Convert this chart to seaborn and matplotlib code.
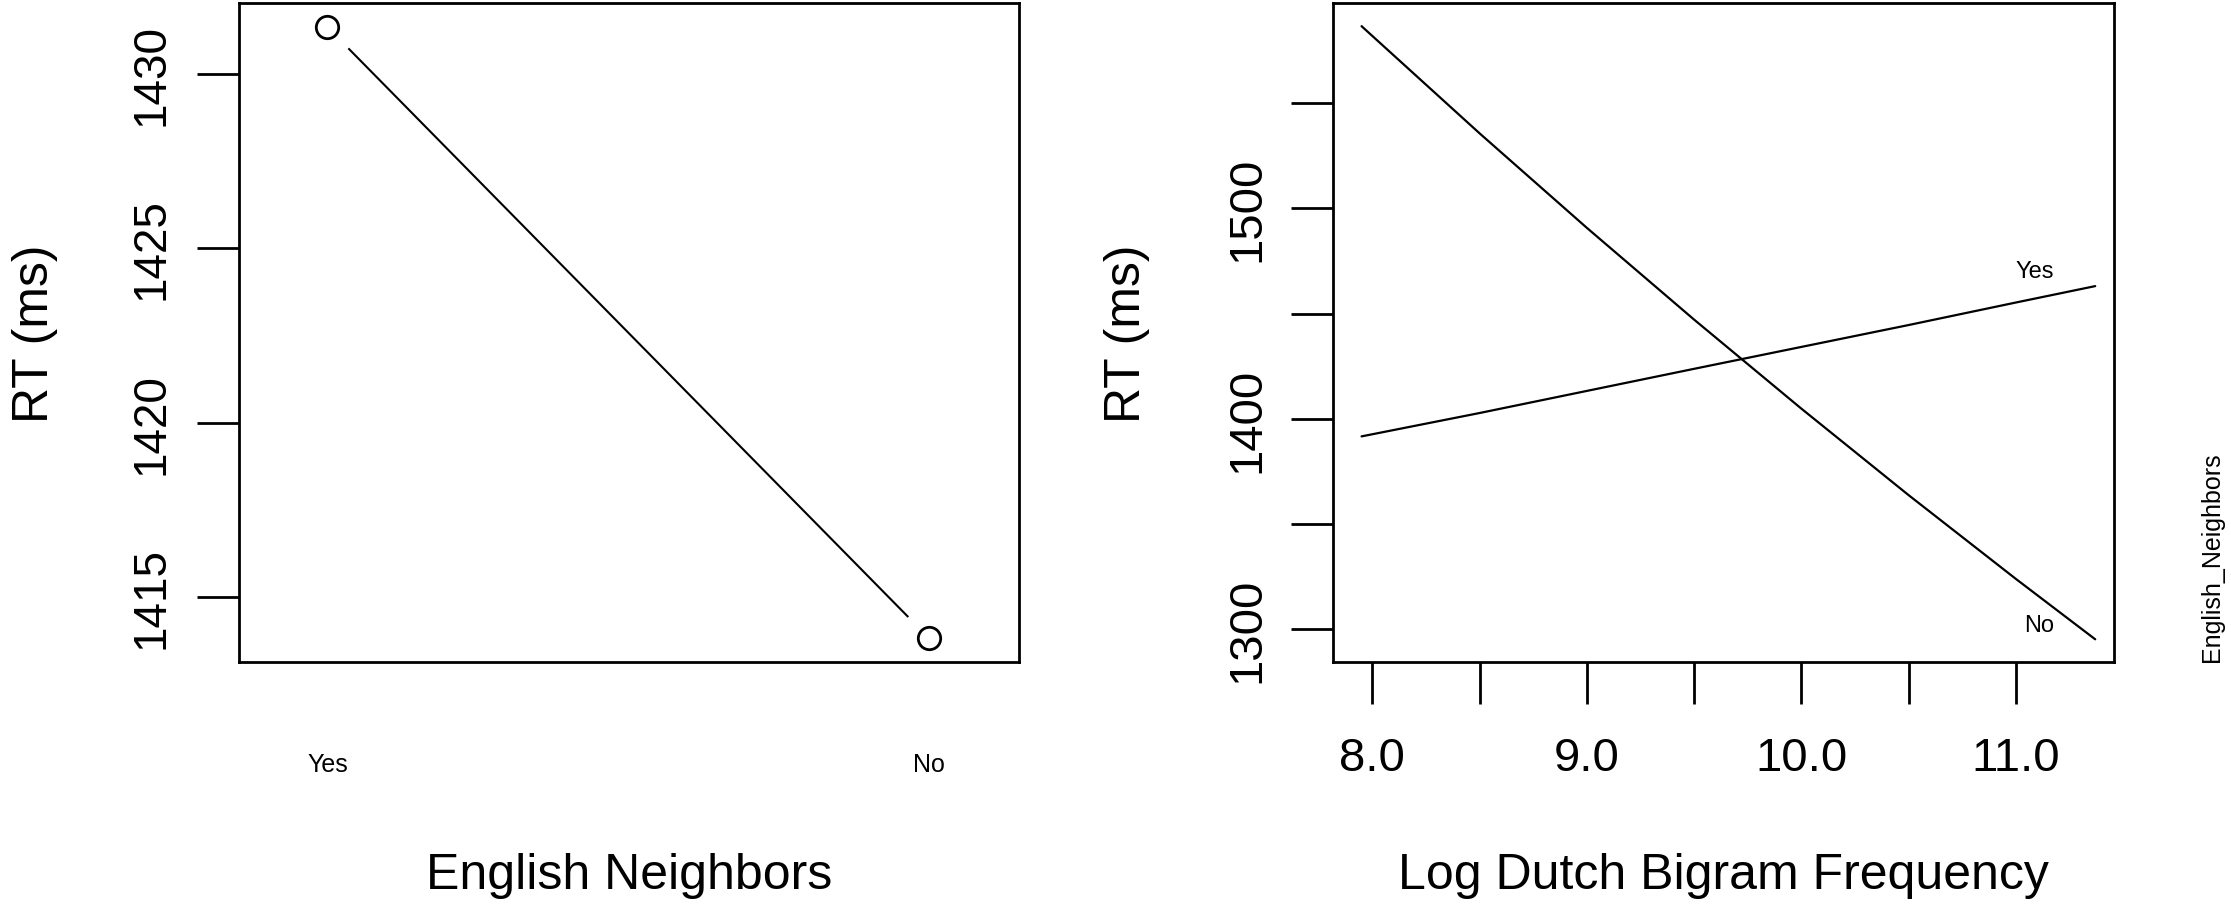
import numpy as np
import pandas as pd
import seaborn as sns
from matplotlib import pyplot as plt

# left panel: English neighbours effect
nb_levels = ["Yes", "No"]
nb_rt = [1431.35, 1413.81]

# right panel: bigram frequency x English neighbours
bigram_x = [7.95, 8.5, 9.0, 9.5, 10.0, 10.5, 11.0, 11.37]
rt_no = [1586.6, 1535.7, 1490.8, 1447.2, 1404.9, 1363.8, 1324.0, 1295.3]
rt_yes = [1391.7, 1402.8, 1413.3, 1423.8, 1434.2, 1444.6, 1455.3, 1463.1]

sns.set_theme(style="ticks")
plt.rcParams['font.family'] = ['Liberation Sans', 'DejaVu Sans']
plt.rcParams['text.color'] = 'black'
plt.rcParams['axes.labelcolor'] = 'black'
plt.rcParams['xtick.color'] = 'black'
plt.rcParams['ytick.color'] = 'black'

fig = plt.figure(figsize=(22.31, 9.12), dpi=100)
ax1 = fig.add_axes([0.1071, 0.2730, 0.3496, 0.7226])
ax2 = fig.add_axes([0.5975, 0.2730, 0.3501, 0.7226])

df1 = pd.DataFrame({"nb": nb_levels, "rt": nb_rt})
sns.lineplot(data=df1, x="nb", y="rt", ax=ax1, color="black", lw=1.5)
# white halo gives the R type="b" gap between line and points
sns.scatterplot(data=df1, x="nb", y="rt", ax=ax1, s=1850, color="white",
                edgecolor="none", zorder=2.1)
sns.scatterplot(data=df1, x="nb", y="rt", ax=ax1, s=260, facecolor="white",
                edgecolor="black", linewidth=2, zorder=2.2)
ax1.set_xlim(-0.147, 1.149)
ax1.set_ylim(1413.13, 1432.04)
ax1.set_yticks([1415, 1420, 1425, 1430])
ax1.tick_params(axis="y", length=30, width=2, labelsize=33, pad=17, labelrotation=90)
for t in ax1.get_yticklabels():
    t.set_va("center")
ax1.tick_params(axis="x", length=0, labelsize=18, pad=65)

long_df = pd.DataFrame({
    "freq": bigram_x * 2,
    "rt": rt_no + rt_yes,
    "English_Neighbors": ["No"] * len(rt_no) + ["Yes"] * len(rt_yes),
})
sns.lineplot(data=long_df, x="freq", y="rt", hue="English_Neighbors",
             palette={"No": "black", "Yes": "black"}, lw=1.6, ax=ax2, legend=False)
ax2.set_xlim(7.817, 11.458)
ax2.set_ylim(1284.5, 1597.6)
ax2.set_xticks(np.arange(8.0, 11.01, 0.5))
ax2.set_xticklabels(["8.0", "", "9.0", "", "10.0", "", "11.0"])
ax2.set_yticks(np.arange(1300, 1551, 50))
ax2.set_yticklabels(["1300", "", "1400", "", "1500", ""])
ax2.tick_params(axis="x", length=30, width=2, labelsize=34, pad=23)
ax2.tick_params(axis="y", length=30, width=2, labelsize=34, pad=16, labelrotation=90)
for t in ax2.get_yticklabels():
    t.set_va("center")

ax2.text(bigram_x[-1] - 0.28, rt_yes[-1] + 7, "Yes", fontsize=17, ha="center", va="center")
ax2.text(bigram_x[-1] - 0.26, rt_no[-1] + 7, "No", fontsize=17, ha="center", va="center")
fig.text(0.9915, 0.389, "English_Neighbors", fontsize=18, rotation=90, ha="center", va="center")

for ax, xl in [(ax1, "English Neighbors"), (ax2, "Log Dutch Bigram Frequency")]:
    ax.set_xlabel(xl, fontsize=36)
    ax.set_ylabel("RT (ms)", fontsize=36)
    ax.xaxis.set_label_coords(0.5, -0.323)
    ax.xaxis.label.set_va("center")
    ax.yaxis.label.set_va("center")
    for s in ax.spines.values():
        s.set_linewidth(2)
        s.set_color("black")
        s.set_zorder(3)
ax1.yaxis.set_label_coords(-0.2615, 0.5)
ax2.yaxis.set_label_coords(-0.2638, 0.5)

fig.savefig("out.png", dpi=100, facecolor="white")
